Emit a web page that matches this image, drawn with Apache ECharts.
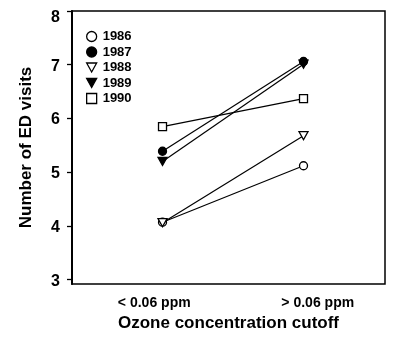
<!DOCTYPE html>
<html><head><meta charset="utf-8">
<script src="https://cdn.jsdelivr.net/npm/echarts@6/dist/echarts.min.js"></script>
<style>html,body{margin:0;padding:0;background:#fff}#c{width:395px;height:337px}</style>
</head><body><div id="c"></div>
<script>
const categories = ['< 0.06 ppm', '> 0.06 ppm'];
const years = ['1986', '1987', '1988', '1989', '1990'];
const v1986 = [4.07, 5.12];
const v1987 = [5.39, 7.06];
const v1988 = [4.06, 5.68];
const v1989 = [5.20, 7.01];
const v1990 = [5.85, 6.37];
const yTicks = [3, 4, 5, 6, 7, 8];

const FONT = '"Liberation Sans Narrow", "Liberation Sans", Arial, sans-serif';
const triDown = 'path://M0,0 L10,0 L5,9 Z';
const sym = {
  '1986': {symbol: 'circle', fill: '#fff', size: 8},
  '1987': {symbol: 'circle', fill: '#000', size: 8},
  '1988': {symbol: triDown, fill: '#fff', size: [9, 8]},
  '1989': {symbol: triDown, fill: '#000', size: [9, 8]},
  '1990': {symbol: 'rect', fill: '#fff', size: 8}
};
const allVals = {'1986': v1986, '1987': v1987, '1988': v1988, '1989': v1989, '1990': v1990};

const series = years.map(y => ({
  name: y,
  type: 'line',
  xAxisIndex: 1,
  data: allVals[y].map((v, i) => [i, v]),
  symbol: sym[y].symbol,
  symbolSize: sym[y].size,
  showAllSymbol: true,
  lineStyle: {color: '#000', width: 1.2},
  itemStyle: {color: sym[y].fill, borderColor: '#000', borderWidth: 1.3},
  emphasis: {disabled: true},
  z: 3
}));

const chart = echarts.init(document.getElementById('c'), null, {renderer: 'canvas'});
chart.setOption({
  animation: false,
  backgroundColor: '#fff',
  textStyle: {fontFamily: FONT},
  grid: {left: 72, right: 10, top: 11, bottom: 53, show: true, borderColor: '#000', borderWidth: 1.5, backgroundColor: 'transparent'},
  legend: {
    orient: 'vertical', left: 81, top: 25,
    itemWidth: 10, itemHeight: 10, itemGap: 2.5,
    textStyle: {fontFamily: FONT, fontWeight: 'bold', fontSize: 13, color: '#000', padding: [0, 0, 0, 1]},
    data: years.map(y => ({
      name: y,
      icon: sym[y].symbol,
      itemStyle: {color: sym[y].fill, borderColor: '#000', borderWidth: 1.3}
    }))
  },
  xAxis: [{
    type: 'category',
    data: [
      {value: categories[0], textStyle: {padding: [0, 0, 0, 8]}},
      {value: categories[1], textStyle: {padding: [0, 0, 0, 22]}}
    ],
    axisLine: {show: false}, axisTick: {show: false},
    axisLabel: {fontFamily: FONT, fontWeight: 'bold', fontSize: 14, color: '#000', margin: 12},
    name: 'Ozone concentration cutoff', nameLocation: 'middle', nameGap: 28,
    nameTextStyle: {fontFamily: FONT, fontWeight: 'bold', fontSize: 17, color: '#000'}
  }, {
    type: 'value', min: -0.642, max: 1.578, show: false
  }],
  yAxis: {
    type: 'value', min: 2.92, max: 8,
    axisLine: {show: true, onZero: false, lineStyle: {color: '#000', width: 2}},
    axisTick: {show: true, inside: false, length: 5, lineStyle: {color: '#000', width: 1.3}, customValues: yTicks},
    axisLabel: {
      fontFamily: FONT, fontWeight: 'bold', fontSize: 16, color: '#000', margin: 12, customValues: yTicks,
      formatter: v => (v === 8 ? '{t|' + v + '}' : '{n|' + v + '}'),
      rich: {
        t: {fontFamily: FONT, fontWeight: 'bold', fontSize: 16, color: '#000', padding: [14, 0, 0, 0]},
        n: {fontFamily: FONT, fontWeight: 'bold', fontSize: 16, color: '#000', padding: [3, 0, 0, 0]}
      }
    },
    splitLine: {show: false},
    name: 'Number of ED visits', nameLocation: 'middle', nameGap: 37,
    nameTextStyle: {fontFamily: FONT, fontWeight: 'bold', fontSize: 17, color: '#000'}
  },
  series: series
});
</script></body></html>
